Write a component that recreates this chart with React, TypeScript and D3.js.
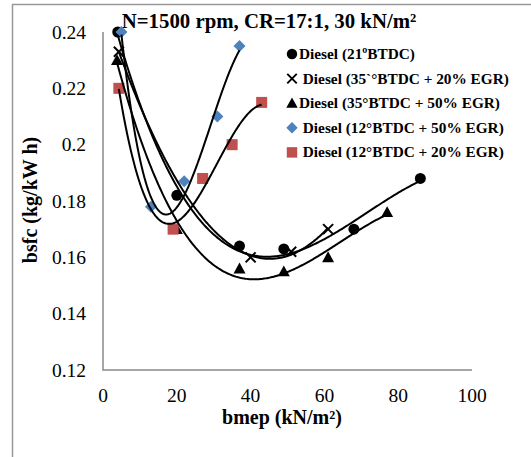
import React from "react";
import * as d3 from "d3";

const W = 531;
const H = 457;

const titleText = "N=1500 rpm, CR=17:1, 30 kN/m²";
const xTitle = "bmep (kN/m²)";
const yTitle = "bsfc (kg/kW h)";
const xTicks = [0, 20, 40, 60, 80, 100];
const yTicks = [0.12, 0.14, 0.16, 0.18, 0.2, 0.22, 0.24];

const seriesNames = [
  "Diesel (21ºBTDC)",
  " Diesel (35`°BTDC + 20% EGR)",
  "Diesel (35°BTDC + 50% EGR)",
  " Diesel (12°BTDC + 50% EGR)",
  " Diesel (12°BTDC + 20% EGR)",
];
const seriesMarkers = ["circle", "x", "triangle", "diamond", "square"];
const seriesColors = ["#000000", "#000000", "#000000", "#4f81bd", "#c0504d"];
const seriesOrder = [3, 2, 3, 3, 3];

const dieselX = [4, 20, 37, 49, 68, 86];
const dieselY = [0.24, 0.182, 0.164, 0.163, 0.17, 0.188];
const egr20aX = [4.3, 40, 51, 61];
const egr20aY = [0.233, 0.16, 0.162, 0.17];
const egr50aX = [3.8, 20, 37, 49, 61, 77];
const egr50aY = [0.23, 0.17, 0.156, 0.155, 0.16, 0.176];
const egr50bX = [5, 13, 22, 31, 37];
const egr50bY = [0.24, 0.178, 0.187, 0.21, 0.235];
const egr20bX = [4.3, 19, 27, 35, 43];
const egr20bY = [0.22, 0.17, 0.188, 0.2, 0.215];

const seriesX = [dieselX, egr20aX, egr50aX, egr50bX, egr20bX];
const seriesY = [dieselY, egr20aY, egr50aY, egr50bY, egr20bY];

function polyFit(xs: number[], ys: number[], order: number): number[] {
  const n = order + 1;
  const A: number[][] = [];
  for (let i = 0; i < n; i++) {
    const row: number[] = [];
    for (let j = 0; j < n; j++) {
      let s = 0;
      for (let k = 0; k < xs.length; k++) s += Math.pow(xs[k], i + j);
      row.push(s);
    }
    let b = 0;
    for (let k = 0; k < xs.length; k++) b += ys[k] * Math.pow(xs[k], i);
    row.push(b);
    A.push(row);
  }
  for (let c = 0; c < n; c++) {
    let p = c;
    for (let r = c + 1; r < n; r++) if (Math.abs(A[r][c]) > Math.abs(A[p][c])) p = r;
    [A[c], A[p]] = [A[p], A[c]];
    for (let r = 0; r < n; r++) {
      if (r === c) continue;
      const f = A[r][c] / A[c][c];
      for (let k = c; k <= n; k++) A[r][k] -= f * A[c][k];
    }
  }
  return A.map((row, i) => row[n] / row[i]);
}

function evalPoly(co: number[], x: number) {
  return co.reduce((s, c, i) => s + c * Math.pow(x, i), 0);
}

const serif = "'Liberation Serif', 'Times New Roman', serif";

function Marker({ type, x, y, color, size = 1 }: { type: string; x: number; y: number; color: string; size?: number }) {
  if (type === "circle") return <circle cx={x} cy={y} r={5.5 * size} fill={color} />;
  if (type === "x") {
    const s = 5 * size;
    return (
      <g stroke={color} strokeWidth={2}>
        <line x1={x - s} y1={y - s} x2={x + s} y2={y + s} />
        <line x1={x - s} y1={y + s} x2={x + s} y2={y - s} />
      </g>
    );
  }
  if (type === "triangle") {
    const s = 6 * size;
    return <path d={`M${x},${y - s}L${x + s},${y + s * 0.8}L${x - s},${y + s * 0.8}Z`} fill={color} />;
  }
  if (type === "diamond") {
    const s = 6 * size;
    return <path d={`M${x},${y - s}L${x + s},${y}L${x},${y + s}L${x - s},${y}Z`} fill={color} />;
  }
  const s = 5.5 * size;
  return <rect x={x - s} y={y - s} width={2 * s} height={2 * s} fill={color} />;
}

export default function App() {
  const x = d3.scaleLinear().domain([0, 100]).range([103, 472]);
  const y = d3.scaleLinear().domain([0.12, 0.24]).range([370, 32]);
  const line = d3
    .line<[number, number]>()
    .x((d) => x(d[0]))
    .y((d) => y(d[1]))
    .curve(d3.curveLinear);

  const curves = seriesX.map((xs, i) => {
    const co = polyFit(xs, seriesY[i], seriesOrder[i]);
    const x0 = d3.min(xs)!;
    const x1 = d3.max(xs)!;
    const pts: [number, number][] = d3.range(0, 201).map((k) => {
      const xv = x0 + ((x1 - x0) * k) / 200;
      return [xv, evalPoly(co, xv)];
    });
    return line(pts)!;
  });

  const legendY0 = 54;
  const legendStep = 24.6;

  return (
    <svg width={W} height={H} style={{ position: "absolute", left: 0, top: 0, background: "#fff" }}>
      <rect x={0} y={0} width={W} height={H} fill="#fff" />
      <path d={`M12.5,${H}V4.5H${W}`} fill="none" stroke="#999" strokeWidth={1.5} />
      <text x={269} y={28} textAnchor="middle" fontFamily={serif} fontWeight="bold" fontSize={20.8}>
        {titleText}
      </text>
      {/* axes */}
      <path d={`M${x(0)},${y(0.24)}V${y(0.12)}H${x(100)}`} fill="none" stroke="#898989" strokeWidth={1.5} />
      {yTicks.map((t) => (
        <text key={t} x={86} y={y(t) + 6.5} textAnchor="end" fontFamily={serif} fontSize={19.5}>
          {String(+t.toFixed(2))}
        </text>
      ))}
      {xTicks.map((t) => (
        <text key={t} x={x(t)} y={402} textAnchor="middle" fontFamily={serif} fontSize={19.5}>
          {t}
        </text>
      ))}
      <text x={282} y={424} textAnchor="middle" fontFamily={serif} fontWeight="bold" fontSize={20}>
        {xTitle}
      </text>
      <text
        transform={`translate(37,200) rotate(-90)`}
        textAnchor="middle"
        fontFamily={serif}
        fontWeight="bold"
        fontSize={20}
      >
        {yTitle}
      </text>
      {/* markers */}
      {seriesX.map((xs, i) =>
        xs.map((xv, k) => (
          <Marker key={`${i}-${k}`} type={seriesMarkers[i]} x={x(xv)} y={y(seriesY[i][k])} color={seriesColors[i]} />
        ))
      )}
      {/* trendlines */}
      {curves.map((d, i) => (
        <path key={i} d={d} fill="none" stroke="#000" strokeWidth={2} />
      ))}
      {/* legend */}
      {seriesNames.map((n, i) => (
        <g key={n}>
          <Marker type={seriesMarkers[i]} x={292} y={legendY0 + i * legendStep} color={seriesColors[i]} size={0.95} />
          <text x={299} y={legendY0 + i * legendStep + 5} fontFamily={serif} fontWeight="bold" fontSize={15.3} xmlSpace="preserve" style={{ whiteSpace: "pre" }}>
            {n}
          </text>
        </g>
      ))}
    </svg>
  );
}
